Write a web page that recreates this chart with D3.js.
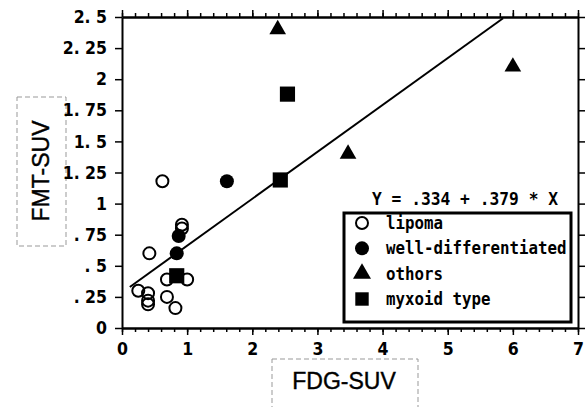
<!DOCTYPE html>
<html>
<head>
<script src="https://d3js.org/d3.v7.min.js"></script>
<style>
  body { margin: 0; background: #fff; }
  .tick text { font-family: "Liberation Sans Narrow", "Arial Narrow", "DejaVu Sans Condensed", sans-serif; font-weight: bold; font-size: 17.5px; fill: #000; }
  .domain, .tick line { stroke: #000; }
  .mono { font-family: "DejaVu Sans Mono", "Liberation Mono", monospace; font-weight: bold; fill: #000; }
</style>
</head>
<body>
<script>
// data
const lipoma = [[0.62,1.18],[0.92,0.83],[0.92,0.80],[0.42,0.60],[0.69,0.39],[1.0,0.39],[0.25,0.30],[0.40,0.28],[0.40,0.22],[0.40,0.19],[0.69,0.25],[0.82,0.16]]
const wellDiff = [[1.61,1.18],[0.87,0.74],[0.84,0.60]]
const others = [[2.39,2.40],[3.47,1.40],[6.0,2.10]]
const myxoid = [[0.84,0.42],[2.43,1.19],[2.54,1.88]]
const fitLine = [[0.12,0.33],[5.85,2.49]]
const yTicks = [0, 0.25, 0.5, 0.75, 1, 1.25, 1.5, 1.75, 2, 2.25, 2.5]
const yLabels = ['0', '. 25', '. 5', '. 75', '1', '1. 25', '1. 5', '1. 75', '2', '2. 25', '2. 5']
const xTicks = [0, 1, 2, 3, 4, 5, 6, 7]
const legendLabels = ['lipoma', 'well-differentiated', 'othors', 'myxoid type']
const equation = 'Y = .334 + .379 * X'

const width = 588, height = 407
const svg = d3.select('body').append('svg').attr('width', width).attr('height', height)

const x = d3.scaleLinear().domain([0, 7]).range([122, 578])
const y = d3.scaleLinear().domain([0, 2.5]).range([328, 17])
const minorX = d3.range(0, 7.01, 0.2).map(d => +d.toFixed(1))

// axis title boxes
svg.append('rect').attr('x', 17).attr('y', 97).attr('width', 49).attr('height', 149)
  .attr('fill', 'none').attr('stroke', '#999').attr('stroke-dasharray', '5,3')
svg.append('text').attr('transform', 'translate(49,171) rotate(-90)').attr('text-anchor', 'middle')
  .style('font-family', 'Liberation Sans, Arial, sans-serif').style('font-size', '23px').attr('fill', '#000')
  .attr('stroke', '#000').attr('stroke-width', 0.4)
  .text('FMT-SUV')
svg.append('rect').attr('x', 272).attr('y', 359).attr('width', 146).attr('height', 60)
  .attr('fill', 'none').attr('stroke', '#999').attr('stroke-dasharray', '5,3')
svg.append('text').attr('x', 344).attr('y', 389).attr('text-anchor', 'middle')
  .style('font-family', 'Liberation Sans, Arial, sans-serif').style('font-size', '23px').attr('fill', '#000')
  .attr('stroke', '#000').attr('stroke-width', 0.4)
  .text('FDG-SUV')

// axes
svg.append('g').attr('transform', 'translate(122,0)')
  .call(d3.axisLeft(y).tickValues(yTicks).tickFormat((d, i) => yLabels[i]).tickSize(7).tickSizeOuter(0).tickPadding(8))
svg.append('g').attr('transform', 'translate(578,0)')
  .call(d3.axisRight(y).tickValues(yTicks).tickFormat('').tickSize(7).tickSizeOuter(0))
svg.append('g').attr('transform', 'translate(0,328)')
  .call(d3.axisBottom(x).tickValues(minorX).tickFormat('').tickSize(4).tickSizeOuter(0))
svg.append('g').attr('transform', 'translate(0,328)')
  .call(d3.axisBottom(x).tickValues(xTicks).tickFormat(d3.format('d')).tickSize(7).tickSizeOuter(0).tickPadding(8))
svg.append('g').attr('transform', 'translate(0,17)')
  .call(d3.axisTop(x).tickValues(minorX).tickFormat('').tickSize(4).tickSizeOuter(0))
svg.append('g').attr('transform', 'translate(0,17)')
  .call(d3.axisTop(x).tickValues(xTicks).tickFormat('').tickSize(7).tickSizeOuter(0))
svg.selectAll('.domain').attr('stroke-width', 2)
svg.selectAll('.tick line').attr('stroke-width', 1.5)

// regression line
svg.append('path').datum(fitLine)
  .attr('d', d3.line().x(d => x(d[0])).y(d => y(d[1])))
  .attr('fill', 'none').attr('stroke', '#000').attr('stroke-width', 2)

// points
const tri = d3.symbol().type(d3.symbolTriangle).size(120)
const sq = d3.symbol().type(d3.symbolSquare).size(230)

svg.append('g').selectAll('circle').data(lipoma).join('circle')
  .attr('cx', d => x(d[0])).attr('cy', d => y(d[1])).attr('r', 6)
  .attr('fill', 'none').attr('stroke', '#000').attr('stroke-width', 2)
svg.append('g').selectAll('circle').data(wellDiff).join('circle')
  .attr('cx', d => x(d[0])).attr('cy', d => y(d[1])).attr('r', 7).attr('fill', '#000')
svg.append('g').selectAll('path').data(others).join('path')
  .attr('transform', d => `translate(${x(d[0])},${y(d[1])})`).attr('d', tri).attr('fill', '#000')
svg.append('g').selectAll('path').data(myxoid).join('path')
  .attr('transform', d => `translate(${x(d[0])},${y(d[1])})`).attr('d', sq).attr('fill', '#000')

// equation
svg.append('text').attr('class', 'mono').attr('x', 372).attr('y', 205)
  .style('font-size', '17px').attr('textLength', 186).attr('lengthAdjust', 'spacingAndGlyphs').text(equation)

// legend
const legend = svg.append('g')
legend.append('rect').attr('x', 344).attr('y', 213).attr('width', 227).attr('height', 109)
  .attr('fill', '#fff').attr('stroke', '#000').attr('stroke-width', 3)
const rowY = d3.scalePoint().domain(legendLabels).range([223, 299])
legend.append('circle').attr('cx', 362).attr('cy', rowY(legendLabels[0])).attr('r', 6)
  .attr('fill', 'none').attr('stroke', '#000').attr('stroke-width', 2)
legend.append('circle').attr('cx', 362).attr('cy', rowY(legendLabels[1])).attr('r', 7).attr('fill', '#000')
legend.append('path').attr('transform', `translate(362,${rowY(legendLabels[2])})`)
  .attr('d', d3.symbol().type(d3.symbolTriangle).size(140)).attr('fill', '#000')
legend.append('path').attr('transform', `translate(362,${rowY(legendLabels[3])})`)
  .attr('d', d3.symbol().type(d3.symbolSquare).size(180)).attr('fill', '#000')
legend.selectAll('text.lab').data(legendLabels).join('text').attr('class', 'mono lab')
  .attr('x', 386).attr('y', d => rowY(d) + 6).style('font-size', '17px')
  .attr('textLength', d => d.length * 9.5).attr('lengthAdjust', 'spacingAndGlyphs').text(d => d)
</script>
</body>
</html>
